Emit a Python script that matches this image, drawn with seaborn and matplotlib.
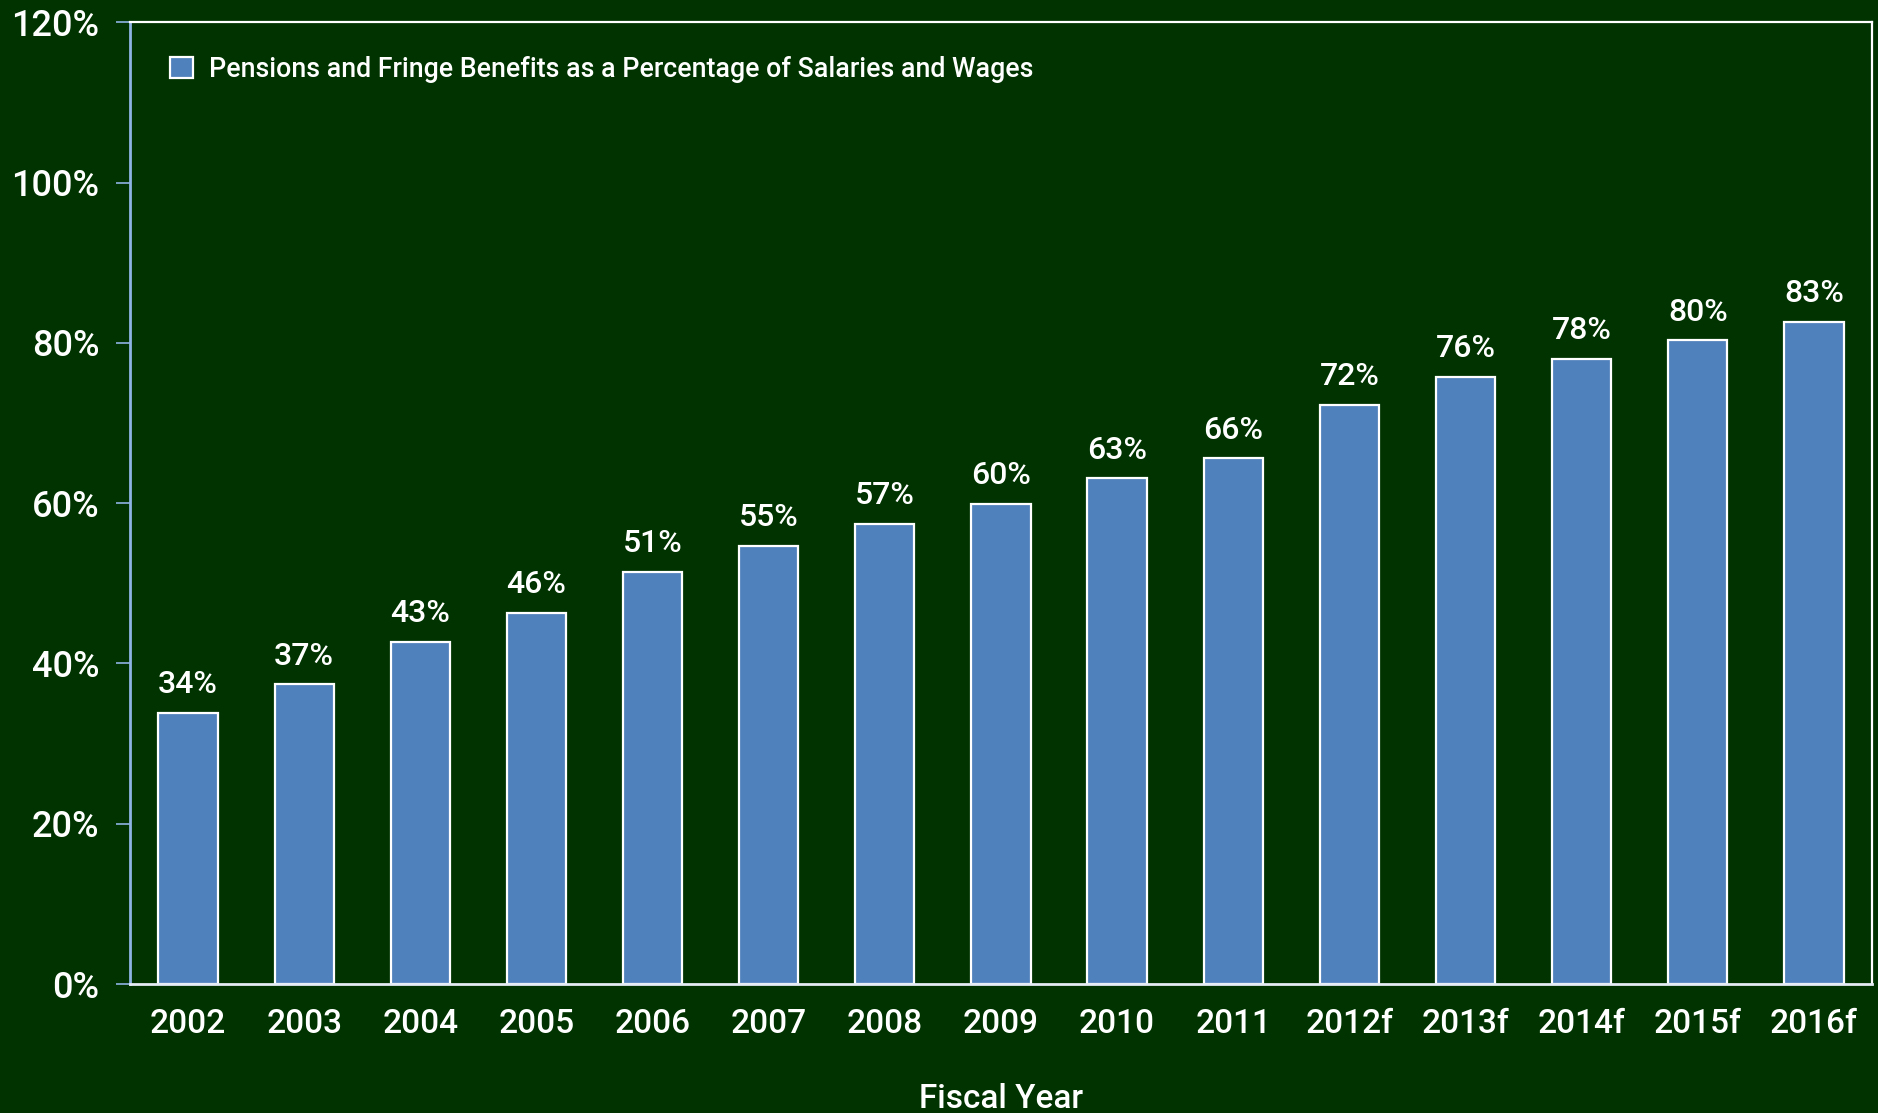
import matplotlib
matplotlib.use("Agg")
import matplotlib.pyplot as plt
import seaborn as sns
import pandas as pd
from matplotlib.patches import Patch

years = ["2002", "2003", "2004", "2005", "2006", "2007", "2008", "2009",
         "2010", "2011", "2012f", "2013f", "2014f", "2015f", "2016f"]
pct = [33.8, 37.4, 42.7, 46.3, 51.4, 54.7, 57.4, 59.9,
       63.1, 65.6, 72.3, 75.8, 78.0, 80.3, 82.6]
series_name = "Pensions and Fringe Benefits as a Percentage of Salaries and Wages"
y_ticks = [0, 20, 40, 60, 80, 100, 120]

BG = "#003300"
BAR = "#4F81BD"
SPINE_BLUE = "#8EB4E3"

df = pd.DataFrame({"year": years, "pct": pct})

sns.set_theme(style="white")
plt.rcParams["font.family"] = ["Roboto", "DejaVu Sans"]
plt.rcParams["font.weight"] = "medium"

fig = plt.figure(figsize=(18.78, 11.13), dpi=100, facecolor=BG)
ax = fig.add_axes([0.0692, 0.1159, 0.9276, 0.8641])
ax.set_facecolor(BG)

sns.barplot(data=df, x="year", y="pct", color=BAR, width=0.51,
            edgecolor="white", linewidth=1.6, saturation=1, ax=ax)

ax.set_xlim(-0.5, len(years) - 0.5)
ax.set_ylim(0, 120)
ax.set_yticks(y_ticks)
ax.set_yticklabels([f"{t}%" for t in y_ticks])

for i, v in enumerate(pct):
    ax.text(i, v + 1.7, f"{round(v)}%", ha="center", va="bottom",
            color="white", fontsize=23, fontweight="medium")

ax.tick_params(axis="y", colors=SPINE_BLUE, labelcolor="white", labelsize=26,
               length=10, width=1.2, left=True, pad=12)
ax.tick_params(axis="x", labelcolor="white", labelsize=24, length=0, pad=17)

ax.set_xlabel("Fiscal Year", color="white", fontsize=24, labelpad=31,
              fontweight="medium")
ax.set_ylabel("")

for side in ["top", "right"]:
    ax.spines[side].set_color("white")
    ax.spines[side].set_linewidth(1.6)
ax.spines["left"].set_color(SPINE_BLUE)
ax.spines["left"].set_linewidth(2)
ax.spines["bottom"].set_color("#E6ECF5")
ax.spines["bottom"].set_linewidth(2)

handle = Patch(facecolor=BAR, edgecolor="white", linewidth=1.6)
leg = ax.legend([handle], [series_name], loc="upper left", frameon=False,
                prop={"size": 19.3, "weight": "medium"}, labelcolor="white",
                handlelength=0.85, handleheight=0.85, handletextpad=0.6,
                bbox_to_anchor=(0.009, 0.99))

fig.savefig("out.png", dpi=100, facecolor=BG)
